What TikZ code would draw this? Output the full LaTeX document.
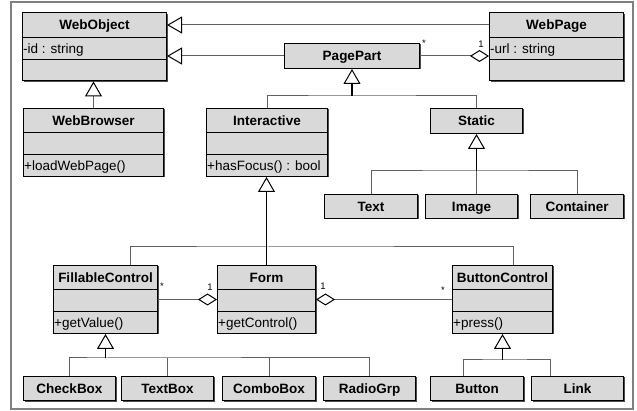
\documentclass[tikz,border=0pt]{standalone}
\usepackage{fontspec}
\setmainfont{Liberation Sans}
\usetikzlibrary{arrows.meta,calc,shadows}
\definecolor{boxfill}{HTML}{D9D9D9}
\definecolor{linegray}{HTML}{606060}
\definecolor{framegray}{HTML}{808080}
\tikzset{
  cls/.style={draw=black, line width=1pt, fill=boxfill, anchor=north west, inner sep=0pt,
    drop shadow={shadow xshift=1pt, shadow yshift=-1pt, fill=black, opacity=0.7}},
  cls1/.style={cls, font=\bfseries\fontsize{13.5}{15}\selectfont, text height=10.5pt, text depth=0.8pt},
  hdr/.style={font=\bfseries\fontsize{13.5}{15}\selectfont, inner sep=0pt, text height=10.5pt, text depth=0.8pt},
  mem/.style={font=\fontsize{13.5}{15}\selectfont, anchor=west, inner sep=1pt, text height=10.5pt, text depth=0.8pt},
  conn/.style={draw=linegray, line width=1pt},
  gen/.style={conn, -{Triangle[open, length=15pt, width=17pt, color=black, fill=white, line width=1pt]}},
  genk/.style={gen, draw=black, line width=1.3pt},
  agg/.style={conn, -{Diamond[open, length=19pt, width=12pt, color=black, fill=white, line width=1pt]}},
  mult/.style={font=\fontsize{9.5}{10}\selectfont, inner sep=0pt},
}
\newcommand{\umlthree}[7]{%
  \node[cls, minimum width=#4pt, minimum height=68pt] (#1) at (#2,#3) {};
  \draw[line width=1pt] ($(#1.north west)+(0,25)$) -- ($(#1.north east)+(0,25)$);
  \draw[line width=1pt] ($(#1.north west)+(0,47)$) -- ($(#1.north east)+(0,47)$);
  \node[hdr] (#1-h) at ($(#1.north)+(0,12.5)$) {#5};
  \node[mem] (#1-a) at ($(#1.north west)+(0,36)$) {#6};
  \node[mem] (#1-o) at ($(#1.north west)+(0,58)$) {#7};
}
\begin{document}
\begin{tikzpicture}[x=1pt,y=-1pt]
\useasboundingbox (0,0) rectangle (637,411);
\fill[white] (0,0) rectangle (637,411);
\draw[draw=framegray, line width=2pt] (11,2) rectangle (633,409);

% classes
\umlthree{webobject}{22}{12.5}{144}{WebObject}{-id : string}{}
\umlthree{webpage}{489}{12.5}{134}{WebPage}{-url : string}{}
\node[cls1, minimum width=135pt, minimum height=25pt] (pagepart) at (284,43) {PagePart};
\umlthree{webbrowser}{23}{108}{140}{WebBrowser}{}{+loadWebPage()}
\umlthree{interactive}{206}{108}{121}{Interactive}{}{+hasFocus() : bool}
\node[cls1, minimum width=92pt, minimum height=25pt] (static) at (430,108) {Static};
\node[cls1, minimum width=93pt, minimum height=24pt] (text) at (324,194) {Text};
\node[cls1, minimum width=92pt, minimum height=24pt] (image) at (425,194) {Image};
\node[cls1, minimum width=93pt, minimum height=24pt] (container) at (530,194) {Container};
\umlthree{fillable}{53}{265}{104}{FillableControl}{}{+getValue()}
\umlthree{form}{217}{265}{98}{Form}{}{+getControl()}
\umlthree{buttonctl}{452}{265}{100}{ButtonControl}{}{+press()}
\node[cls1, minimum width=92pt, minimum height=24pt] (checkbox) at (23,376) {CheckBox};
\node[cls1, minimum width=92pt, minimum height=24pt] (textbox) at (121,376) {TextBox};
\node[cls1, minimum width=93pt, minimum height=24pt] (combobox) at (222,376) {ComboBox};
\node[cls1, minimum width=92pt, minimum height=24pt] (radiogrp) at (323,376) {RadioGrp};
\node[cls1, minimum width=93pt, minimum height=24pt] (button) at (430,376) {Button};
\node[cls1, minimum width=92pt, minimum height=24pt] (link) at (531,376) {Link};

% top relations
\draw[gen] (webpage.west |- webobject-h) -- (webobject.east |- webobject-h);
\draw[gen] (pagepart.west) -- (pagepart.west -| webobject.east);
\draw[agg] (pagepart.east) -- (pagepart.east -| webpage.west);
\node[mult] (m1) at (424,43) {*};
\node[mult] (m2) at (481,44) {1};
\draw[gen] (webbrowser.north) -- (webbrowser.north |- webobject.south);

% PagePart tree
\coordinate (jpp) at ($(pagepart.south)+(0,27)$);
\draw[conn] (interactive.north) |- (jpp) -| (static.north);
\draw[genk] (jpp) -- (pagepart.south);

% Static tree
\coordinate (jst) at ($(static.south)+(0,37)$);
\draw[conn] (text.north) |- (jst) -| (container.north);
\draw[conn] (jst) -- (static.south |- image.north);
\draw[genk] (jst) -- (static.south);

% Interactive tree
\coordinate (jin) at ($(interactive.south)+(0,70)$);
\coordinate (fctop) at ($(fillable.north west)+(77,0)$);
\coordinate (bctop) at ($(buttonctl.north west)+(61,0)$);
\draw[conn] (fctop) |- (jin) -| (bctop);
\draw[genk] (form.north) -- (form.north |- interactive.south);

% aggregations
\draw[agg] (fillable.east) -- (form.west);
\draw[agg] (buttonctl.west) -- (form.east);
\node[mult] (m3) at (162,286) {*};
\node[mult] (m4) at (210,287) {1};
\node[mult] (m5) at (323,286) {1};
\node[mult] (m6) at (443,290) {*};

% FillableControl tree
\coordinate (jfc) at ($(fillable.south)+(0,24)$);
\draw[conn] (checkbox.north) |- (jfc) -| (radiogrp.north);
\draw[conn] (textbox.north) -- (textbox.north |- jfc);
\draw[conn] (combobox.north) -- (combobox.north |- jfc);
\draw[genk] (jfc) -- (fillable.south);

% ButtonControl tree
\coordinate (jbc) at ($(buttonctl.south)+(0,26)$);
\coordinate (bttop) at ($(button.north west)+(33,0)$);
\coordinate (lktop) at ($(link.north west)+(19,0)$);
\draw[conn] (bttop) |- (jbc) -| (lktop);
\draw[genk] (jbc) -- (buttonctl.south);
\end{tikzpicture}
\end{document}
